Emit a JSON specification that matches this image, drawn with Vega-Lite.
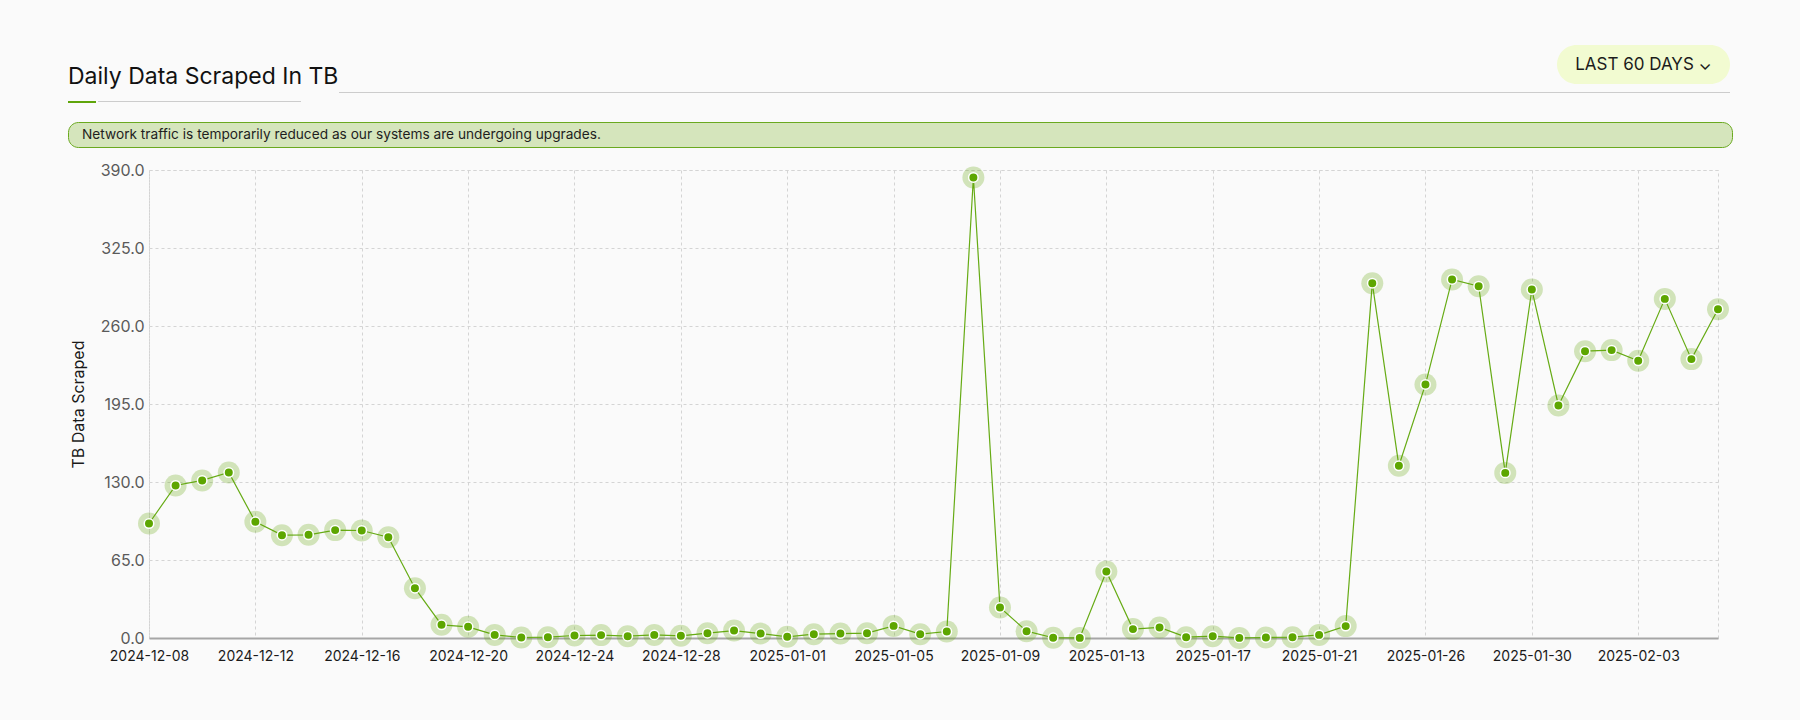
{
  "$schema": "https://vega.github.io/schema/vega-lite/v6.json",
  "background": "#fafafa",
  "padding": {"left": 67, "top": 45, "right": 69, "bottom": 56},
  "spacing": 18,
  "datasets": {
    "none": [],
    "pill": [{"label": "LAST 60 DAYS ⌄"}],
    "tb": [
      {"date": "2024-12-08", "tb": 95.4},
      {"date": "2024-12-09", "tb": 127.1},
      {"date": "2024-12-10", "tb": 131.3},
      {"date": "2024-12-11", "tb": 137.9},
      {"date": "2024-12-12", "tb": 96.8},
      {"date": "2024-12-13", "tb": 85.7},
      {"date": "2024-12-14", "tb": 86.0},
      {"date": "2024-12-15", "tb": 89.9},
      {"date": "2024-12-16", "tb": 89.6},
      {"date": "2024-12-17", "tb": 84.0},
      {"date": "2024-12-18", "tb": 41.5},
      {"date": "2024-12-19", "tb": 11.0},
      {"date": "2024-12-20", "tb": 9.3},
      {"date": "2024-12-21", "tb": 2.6},
      {"date": "2024-12-22", "tb": 0.4},
      {"date": "2024-12-23", "tb": 0.7},
      {"date": "2024-12-24", "tb": 2.1},
      {"date": "2024-12-25", "tb": 2.4},
      {"date": "2024-12-26", "tb": 1.5},
      {"date": "2024-12-27", "tb": 2.6},
      {"date": "2024-12-28", "tb": 1.8},
      {"date": "2024-12-29", "tb": 4.0},
      {"date": "2024-12-30", "tb": 6.2},
      {"date": "2024-12-31", "tb": 3.7},
      {"date": "2025-01-01", "tb": 1.0},
      {"date": "2025-01-02", "tb": 3.2},
      {"date": "2025-01-03", "tb": 3.7},
      {"date": "2025-01-04", "tb": 4.0},
      {"date": "2025-01-05", "tb": 10.1},
      {"date": "2025-01-06", "tb": 3.2},
      {"date": "2025-01-07", "tb": 5.4},
      {"date": "2025-01-08", "tb": 383.8},
      {"date": "2025-01-09", "tb": 25.4},
      {"date": "2025-01-10", "tb": 5.7},
      {"date": "2025-01-11", "tb": 0.2},
      {"date": "2025-01-12", "tb": 0.1},
      {"date": "2025-01-13", "tb": 55.4},
      {"date": "2025-01-14", "tb": 7.4},
      {"date": "2025-01-15", "tb": 8.8},
      {"date": "2025-01-16", "tb": 0.7},
      {"date": "2025-01-17", "tb": 1.5},
      {"date": "2025-01-18", "tb": 0.1},
      {"date": "2025-01-19", "tb": 0.4},
      {"date": "2025-01-20", "tb": 0.7},
      {"date": "2025-01-21", "tb": 2.6},
      {"date": "2025-01-22", "tb": 9.9},
      {"date": "2025-01-23", "tb": 295.7},
      {"date": "2025-01-24", "tb": 143.5},
      {"date": "2025-01-26", "tb": 211.3},
      {"date": "2025-01-27", "tb": 298.8},
      {"date": "2025-01-28", "tb": 293.2},
      {"date": "2025-01-29", "tb": 137.6},
      {"date": "2025-01-30", "tb": 290.4},
      {"date": "2025-01-31", "tb": 193.8},
      {"date": "2025-02-01", "tb": 239.0},
      {"date": "2025-02-02", "tb": 239.9},
      {"date": "2025-02-03", "tb": 231.0},
      {"date": "2025-02-04", "tb": 282.6},
      {"date": "2025-02-05", "tb": 232.4},
      {"date": "2025-02-06", "tb": 274.0}
    ]
  },
  "config": {
    "font": "Inter",
    "view": {"stroke": null},
    "title": {"font": "Inter", "fontWeight": "normal"}
  },
  "vconcat": [
    {
      "spacing": 0,
      "hconcat": [
        {
          "spacing": 12,
          "vconcat": [
            {
              "width": 233,
              "height": 39,
              "data": {"name": "none"},
              "mark": "point",
              "title": {
                "text": "Daily Data Scraped In TB",
                "anchor": "start",
                "orient": "bottom",
                "frame": "group",
                "offset": 0,
                "baseline": "alphabetic",
                "fontSize": 23,
                "fontWeight": "normal",
                "color": "#111111"
              }
            },
            {
              "spacing": 2,
              "hconcat": [
                {"width": 28, "height": 2, "data": {"name": "none"}, "mark": "point", "view": {"fill": "#5fa50a", "stroke": null}},
                {"width": 203, "height": 1, "data": {"name": "none"}, "mark": "point", "view": {"fill": "#cccccc", "stroke": null}}
              ]
            }
          ]
        },
        {
          "spacing": 8,
          "vconcat": [
            {
              "spacing": 14,
              "hconcat": [
                {"width": 1204, "height": 39, "data": {"name": "none"}, "mark": "point"},
                {
                  "width": 173,
                  "height": 39,
                  "data": {"name": "pill"},
                  "mark": {"type": "text", "fontSize": 17, "color": "#1c1c1c", "font": "Inter"},
                  "encoding": {"text": {"field": "label"}},
                  "view": {"fill": "#f2fbd1", "stroke": null, "cornerRadius": 19.5}
                }
              ]
            },
            {"width": 1391, "height": 1, "data": {"name": "none"}, "mark": "point", "view": {"fill": "#cccccc", "stroke": null}}
          ]
        }
      ]
    },
    {
      "spacing": 13,
      "vconcat": [
        {
          "width": 1664,
          "height": 25,
          "data": {"name": "none"},
          "mark": "point",
          "view": {"fill": "#d5e5bc", "stroke": "#6aa91f", "strokeWidth": 1, "cornerRadius": 10},
          "title": {
            "text": "Network traffic is temporarily reduced as our systems are undergoing upgrades.",
            "anchor": "start",
            "orient": "bottom",
            "frame": "group",
            "offset": -12.5,
            "baseline": "middle",
            "dx": 14,
            "fontSize": 13.7,
            "fontWeight": "normal",
            "color": "#1e1e1e"
          }
        },
        {
          "spacing": 0,
          "hconcat": [
            {"width": 1, "height": 1, "data": {"name": "none"}, "mark": "point"},
            {
              "width": 1569,
              "height": 468,
              "data": {"name": "tb"},
              "view": {"stroke": "#d4d4d4", "strokeDash": [3, 3], "strokeWidth": 1},
              "encoding": {
                "x": {
                  "field": "date",
                  "type": "ordinal",
                  "sort": null,
                  "scale": {"type": "point", "padding": 0},
                  "axis": {
                    "values": ["2024-12-08", "2024-12-12", "2024-12-16", "2024-12-20", "2024-12-24", "2024-12-28", "2025-01-01", "2025-01-05", "2025-01-09", "2025-01-13", "2025-01-17", "2025-01-21", "2025-01-26", "2025-01-30", "2025-02-03"],
                    "title": null,
                    "labelAngle": 0,
                    "labelFontSize": 14,
                    "labelColor": "#1a1a1a",
                    "labelPadding": 11,
                    "ticks": false,
                    "tickSize": 0,
                    "domain": true,
                    "domainColor": "#a6a6a6",
                    "domainWidth": 2,
                    "grid": true,
                    "gridColor": "#d4d4d4",
                    "gridDash": [3, 3]
                  }
                },
                "y": {
                  "field": "tb",
                  "type": "quantitative",
                  "scale": {"domain": [0, 390], "nice": false},
                  "axis": {
                    "values": [0, 65, 130, 195, 260, 325, 390],
                    "format": ".1f",
                    "title": "TB Data Scraped",
                    "titleFontSize": 16,
                    "titleFontWeight": "normal",
                    "titleColor": "#1a1a1a",
                    "titlePadding": 14,
                    "labelFontSize": 16,
                    "labelColor": "#5a5a5a",
                    "labelPadding": 5,
                    "ticks": false,
                    "tickSize": 0,
                    "domain": false,
                    "grid": true,
                    "gridColor": "#d4d4d4",
                    "gridDash": [3, 3]
                  }
                }
              },
              "layer": [
                {"mark": {"type": "line", "color": "#66ab14", "strokeWidth": 1.2}},
                {"mark": {"type": "circle", "size": 484, "color": "#64a70b", "opacity": 0.27}},
                {"mark": {"type": "circle", "size": 90, "color": "#5da600", "opacity": 1, "stroke": "#ffffff", "strokeWidth": 1.5}}
              ]
            }
          ]
        }
      ]
    }
  ]
}
